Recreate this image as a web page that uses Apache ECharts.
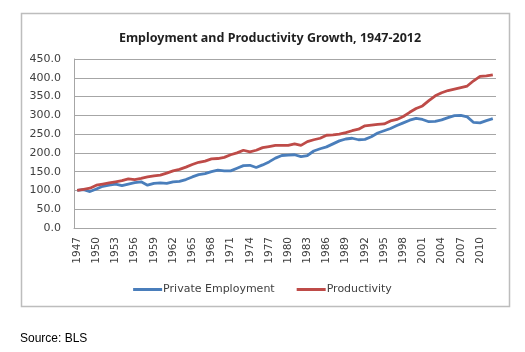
<!DOCTYPE html>
<html>
<head>
<meta charset="utf-8">
<script src="https://cdn.jsdelivr.net/npm/echarts@6/dist/echarts.min.js"></script>
<style>
html,body{margin:0;padding:0;background:#fff;}
#c{width:525px;height:352px;}
</style>
</head>
<body>
<div id="c"></div>
<script>
var years = [];
for (var y = 1947; y <= 2012; y++) years.push(String(y));

var privateEmployment = [
100,102,97,104,111,114,117,113,117,121,123,114,119,120,119,123,124,129,136,142,
145,150,154,152,152,159,166,167,161,168,176,186,193,194,195,190,193,205,211,216,
224,232,237,239,235,236,243,253,259,265,273,280,287,292,289,283,284,288,294,299,
300,296,281,280,286,291
];
var productivity = [
100,103,106,114,117,120,123,126,131,129,132,136,139,141,146,152,156,162,169,175,
178,184,185,188,195,200,207,203,207,214,217,220,220,220,224,220,230,235,239,247,
248,250,254,259,263,272,274,276,277,285,289,297,308,318,325,339,352,360,366,370,
374,378,392,404,405,408
];
var seriesNames = ['Private Employment', 'Productivity'];
var titleText = 'Employment and Productivity Growth, 1947-2012';
var sourceText = 'Source: BLS';

var chart = echarts.init(document.getElementById('c'), null, {renderer: 'canvas'});
var font = 'DejaVu Sans';
chart.setOption({
  animation: false,
  backgroundColor: '#ffffff',
  title: {
    text: titleText,
    left: 265, top: 27, textAlign: 'center',
    textStyle: {fontFamily: 'Noto Sans', fontWeight: 'bold', fontSize: 12.5, color: '#1f1f1f'}
  },
  graphic: [
    {type: 'rect', shape: {x: 21.5, y: 13.5, width: 488, height: 293},
     style: {fill: 'none', stroke: '#bdbdbd', lineWidth: 1.5}, silent: true},
    {type: 'text', left: 20, top: 333,
     style: {text: sourceText, font: '12px "Liberation Sans"', fill: '#000'}}
  ],
  legend: {
    data: seriesNames,
    left: 'center', top: 279,
    itemWidth: 29, itemHeight: 3, itemGap: 22,
    icon: 'rect',
    textStyle: {fontFamily: font, fontSize: 11, color: '#404040', padding: [0,0,0,-4]}
  },
  grid: {left: 74, right: 29, top: 59, bottom: 124, containLabel: false},
  xAxis: {
    type: 'category', data: years, boundaryGap: true,
    axisLine: {lineStyle: {color: '#a6a6a6', width: 1}},
    axisTick: {show: false},
    axisLabel: {interval: 2, rotate: 90, fontFamily: font, fontSize: 10.5, color: '#404040', margin: 9}
  },
  yAxis: {
    type: 'value', min: 0, max: 450, interval: 50,
    axisLine: {show: true, lineStyle: {color: '#a6a6a6', width: 1}},
    axisTick: {show: false},
    splitLine: {lineStyle: {color: '#a6a6a6', width: 1}},
    axisLabel: {formatter: function (v) { return v.toFixed(1); }, fontFamily: font, fontSize: 11, color: '#404040', margin: 13}
  },
  series: [
    {name: seriesNames[0], type: 'line', data: privateEmployment, symbol: 'none',
     lineStyle: {color: '#4a7ebb', width: 2.8}, itemStyle: {color: '#4a7ebb'}},
    {name: seriesNames[1], type: 'line', data: productivity, symbol: 'none',
     lineStyle: {color: '#be4b48', width: 2.8}, itemStyle: {color: '#be4b48'}}
  ]
});
</script>
</body>
</html>
